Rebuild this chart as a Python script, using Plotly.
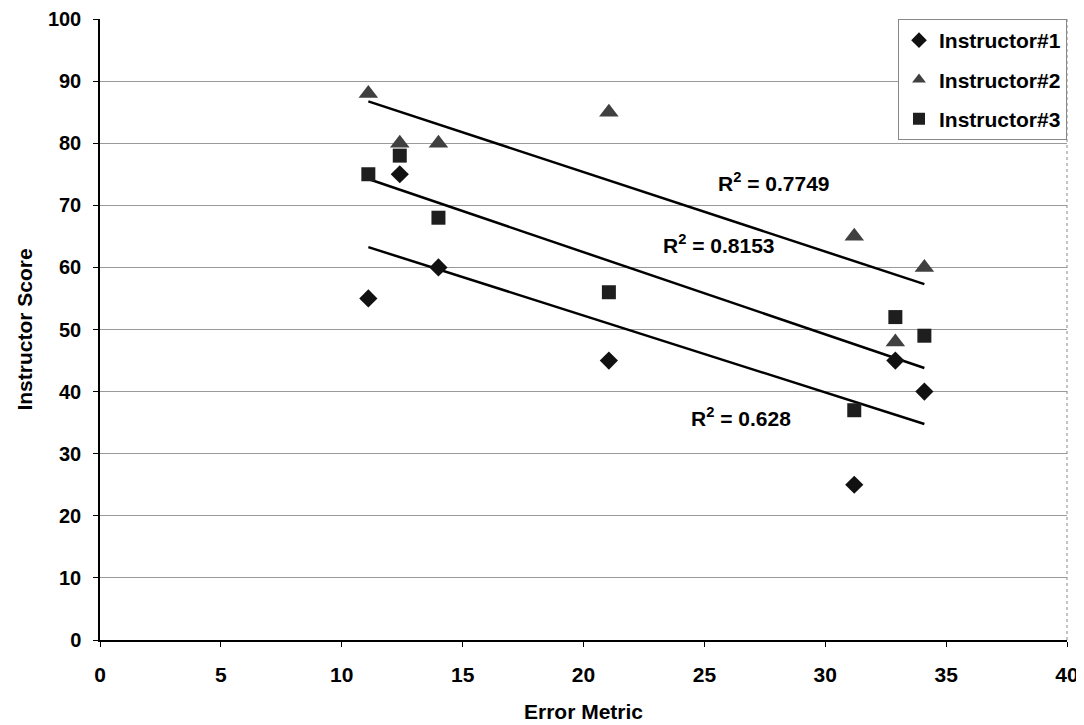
import numpy as np
import plotly.graph_objects as go

error_metric = [11.1, 12.4, 14.0, 21.05, 31.2, 32.9, 34.1]
instructor1 = [55, 75, 60, 45, 25, 45, 40]
instructor2 = [88, 80, 80, 85, 65, 48, 60]
instructor3 = [75, 78, 68, 56, 37, 52, 49]
series_names = ["Instructor#1", "Instructor#2", "Instructor#3"]
r2_labels = ["R<sup>2</sup> = 0.628", "R<sup>2</sup> = 0.7749", "R<sup>2</sup> = 0.8153"]
x_ticks = [0, 5, 10, 15, 20, 25, 30, 35, 40]
y_ticks = [0, 10, 20, 30, 40, 50, 60, 70, 80, 90, 100]

FONT = "Liberation Sans, Arial, sans-serif"
fig = go.Figure()

series = [instructor1, instructor2, instructor3]
styles = [
    dict(symbol="diamond", size=14, color="#111111"),
    dict(symbol="triangle-up", size=17, color="#404040"),
    dict(symbol="square", size=14, color="#1e1e1e"),
]

# trendlines (linear fits)
xs = np.array(error_metric)
xline = np.array([xs.min(), xs.max()])
for ys in series:
    m, b = np.polyfit(xs, np.array(ys), 1)
    fig.add_trace(go.Scatter(x=xline, y=m * xline + b, mode="lines",
                             line=dict(color="black", width=2.5),
                             showlegend=False, hoverinfo="skip"))

for name, ys, st in zip(series_names, series, styles):
    fig.add_trace(go.Scatter(x=error_metric, y=ys, mode="markers", name=name,
                             legendgroup=name,
                             marker=dict(symbol=st["symbol"], size=st["size"],
                                         color=st["color"],
                                         line=dict(width=0))))

ann_pos = [(26.5, 35.9), (27.9, 73.8), (25.6, 63.8)]
for txt, (ax, ay) in zip(r2_labels, ann_pos):
    fig.add_annotation(x=ax, y=ay, text=txt, showarrow=False,
                       font=dict(family=FONT, size=21, color="black", weight="bold"))

# right border dotted
fig.add_shape(type="line", xref="paper", yref="paper", x0=1, x1=1, y0=0, y1=1,
              line=dict(color="#888888", width=1, dash="dot"))

fig.update_layout(
    width=1084, height=725,
    margin=dict(l=92, r=25, t=11, b=93),
    paper_bgcolor="white", plot_bgcolor="white",
    font=dict(family=FONT, size=21, color="black"),
    legend=dict(x=1.0, y=1.0, xanchor="right", yanchor="top",
                bgcolor="white", bordercolor="#888888", borderwidth=1,
                font=dict(family=FONT, size=21, color="black", weight="bold"),
                itemsizing="constant", tracegroupgap=9, itemwidth=30),
    xaxis=dict(range=[0, 40], tickvals=x_ticks, showgrid=False, zeroline=False,
               showline=True, linecolor="black", linewidth=1.5,
               ticks="outside", ticklen=5, tickcolor="black",
               ticklabelstandoff=10, automargin=False,
               tickfont=dict(family=FONT, size=21, weight="bold"),
               title=dict(text="<b>Error Metric</b>", font=dict(family=FONT, size=21), standoff=19)),
    yaxis=dict(range=[0, 100], tickvals=y_ticks, showgrid=True, gridcolor="#9a9a9a",
               gridwidth=1, zeroline=False,
               showline=True, linecolor="black", linewidth=1.5,
               ticks="outside", ticklen=5, tickcolor="black",
               ticklabelstandoff=8, automargin=False,
               tickfont=dict(family=FONT, size=20, weight="bold"),
               title=dict(text="<b>Instructor Score</b>", font=dict(family=FONT, size=21), standoff=10)),
)

fig.write_html("out.html")
